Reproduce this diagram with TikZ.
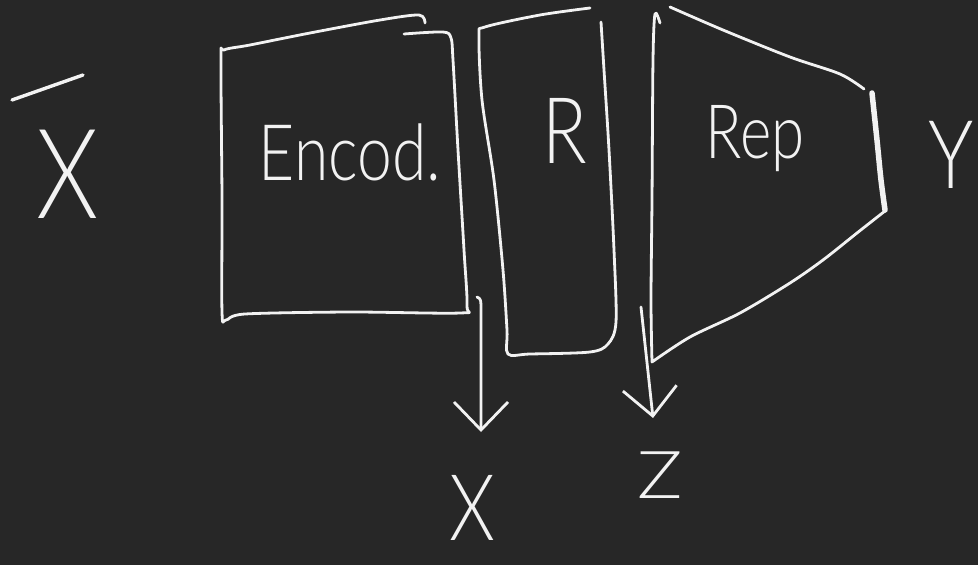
\documentclass[tikz,border=0pt]{standalone}
\usepackage{fontspec}
\newfontfamily\hand{Lato Light}[FakeStretch=0.8]
\newfontfamily\handwide{Lato Light}[FakeStretch=1.15]
\usetikzlibrary{arrows.meta}
\definecolor{board}{RGB}{39,39,39}
\definecolor{chalk}{RGB}{242,242,242}
\tikzset{
  pen/.style={draw=chalk, line width=2.8pt, line cap=round, line join=round},
  handtext/.style={text=chalk, inner sep=0pt, anchor=base},
  pointer/.style={pen, -{Straight Barb[length=28pt, width=54pt, line width=2.8pt]}}
}
\newcommand{\handsz}[1]{\hand\fontsize{#1}{#1}\selectfont}
\begin{document}
\begin{tikzpicture}[x=1pt, y=-1pt]
  % blackboard
  \fill[board] (0,0) rectangle (978,565);
  \useasboundingbox (0,0) rectangle (978,565);

  % input X with its bar
  \node[handtext, font=\handsz{125}] (xin) at (68,218) {X};
  \draw[pen, line width=3.4pt] (12,100) -- (83,75);

  % encoder block
  \draw[pen] plot[smooth, tension=0.5] coordinates {
    (425,23) (419,15) (380,20) (310,33) (250,45) (224,50) (221,60)
    (222,200) (222,312) (226,320) (245,314) (350,312) (460,313) (467,306)
    (464,250) (458,150) (453,60) (451,38) (443,32) (404,34)};
  \node[handtext, font=\handsz{78}] (enc) at (350,180) {Encod.};

  % R block
  \draw[pen] plot[smooth, tension=0.5] coordinates {
    (590,8) (540,15) (485,27) (479,36) (482,100) (494,180) (503,270)
    (507,330) (508,354) (530,354) (590,352) (608,344) (616,322)
    (614,250) (609,150) (604,70) (601,22)};
  \node[handtext, font=\handsz{92}] (rblk) at (565,163) {R};

  % Rep block (trapezoid)
  \draw[pen] plot[smooth, tension=0.5] coordinates {
      (660,23) (655,14) (653,60) (652,200) (651,300) (652,362)}
    -- plot[smooth, tension=0.5] coordinates {
      (652,362) (690,337) (740,313) (790,283) (823,260) (857,233) (885,211)};
  \draw[pen] plot[smooth, tension=0.5] coordinates {
    (670,7) (723,30) (790,57) (840,74) (864,89)};
  \draw[pen, line width=5.5pt] plot[smooth, tension=0.5] coordinates {
    (872,93) (877,140) (881,180) (885,210)};
  \node[handtext, font=\handsz{75}] (rep) at (755,158) {Rep};

  % output Y
  \node[handtext, font=\handsz{95}] (yout) at (951,188) {Y};

  % outputs X and Z
  \node[handtext, font=\handsz{92}] (xout) at (472,540) {X};
  \node[handtext, font=\handwide\fontsize{66}{66}\selectfont] (zout) at (660,498) {Z};

  \coordinate (xs) at (477,297);
  \coordinate (xe) at (481,432);
  \coordinate (zs) at (641,307);
  \coordinate (ze) at (653,418);
  \draw[pointer] (xs) .. controls (481,299) .. (481,312) -- (xe);
  \draw[pointer] (zs) -- (ze);
\end{tikzpicture}
\end{document}
